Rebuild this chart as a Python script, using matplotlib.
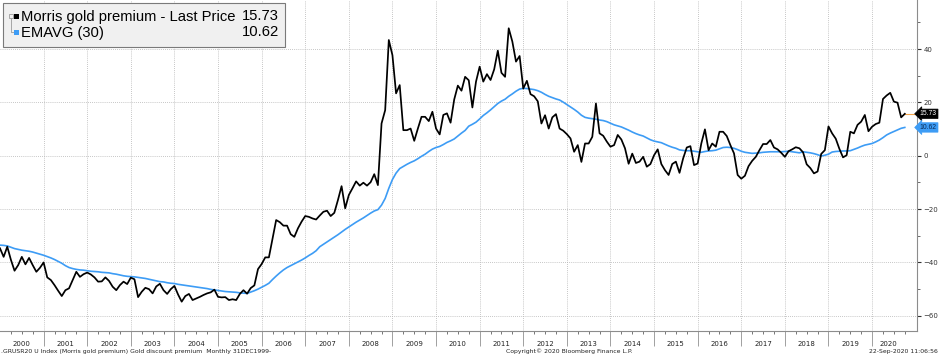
import matplotlib
matplotlib.use("Agg")
import matplotlib.pyplot as plt
import matplotlib.transforms as mtransforms
from matplotlib.patches import Rectangle
import pandas as pd

# monthly series, 31 Dec 1999 .. Sep 2020
premium = [
    -34.7,
    -37.9, -34.1, -39.0, -43.1, -41.0, -37.9, -40.7, -38.3, -41.0, -43.5, -42.0, -40.0,  # 2000
    -45.6, -46.6, -48.5, -50.6, -52.6, -50.4, -49.7, -46.6, -43.5, -45.4, -44.4, -43.8,  # 2001
    -44.5, -45.6, -47.2, -47.1, -45.6, -46.9, -49.1, -50.4, -48.5, -47.2, -48.1, -45.7,  # 2002
    -46.3, -53.0, -51.0, -49.5, -50.0, -51.6, -49.0, -48.0, -50.4, -51.8, -50.0, -48.8,  # 2003
    -52.0, -54.7, -52.6, -51.8, -54.1, -53.5, -52.9, -52.2, -51.6, -51.2, -50.2, -52.9,  # 2004
    -53.1, -53.0, -54.1, -53.8, -54.1, -51.8, -50.4, -51.7, -49.6, -48.6, -42.5, -40.6,  # 2005
    -38.1, -38.1, -31.0, -24.1, -24.9, -26.2, -26.2, -29.4, -30.4, -27.2, -24.7, -22.6,  # 2006
    -22.9, -23.5, -23.9, -22.4, -21.0, -20.6, -22.6, -21.4, -16.6, -11.4, -19.7, -14.7,  # 2007
    -12.2, -9.6, -11.2, -10.1, -11.2, -9.9, -6.9, -11.0, 12.1, 17.1, 43.4, 37.7,  # 2008
    23.4, 26.5, 9.6, 9.6, 10.2, 5.6, 10.2, 14.6, 14.6, 13.0, 16.5, 10.2,  # 2009
    8.0, 15.3, 15.9, 12.4, 21.1, 26.3, 24.4, 29.6, 28.3, 18.1, 27.8, 33.4,  # 2010
    27.8, 30.6, 28.4, 32.4, 39.4, 31.1, 29.6, 47.8, 42.8, 35.3, 37.4, 25.2,  # 2011
    28.1, 23.1, 22.3, 20.4, 12.1, 15.2, 10.2, 14.4, 15.6, 10.2, 9.4, 8.1,  # 2012
    6.5, 1.5, 4.0, -2.3, 4.6, 4.6, 7.1, 19.6, 8.4, 7.5, 5.3, 3.4,  # 2013
    4.0, 7.8, 6.1, 2.8, -3.0, 0.8, -2.7, -2.2, -0.4, -4.1, -3.1, 0.2,  # 2014
    2.4, -3.1, -5.4, -7.2, -3.1, -2.2, -6.4, -1.0, 3.1, 3.6, -3.5, -2.9,  # 2015
    4.6, 9.9, 2.1, 4.6, 3.4, 9.0, 9.0, 7.4, 4.0, 0.9, -7.2, -8.6,  # 2016
    -7.5, -3.9, -1.9, -0.4, 2.1, 4.4, 4.4, 5.9, 3.1, 2.4, 1.1, -0.4,  # 2017
    1.7, 2.4, 3.2, 2.8, 1.3, -3.2, -4.6, -6.6, -5.9, 0.7, 2.1, 11.0,  # 2018
    8.4, 6.4, 2.6, -0.6, 0.2, 9.0, 8.4, 11.6, 12.8, 15.3, 9.2, 10.9,  # 2019
    11.9, 12.4, 21.3, 22.6, 23.6, 20.3, 19.9, 14.4, 15.73,  # 2020
]

ema30 = [
    -33.5,
    -33.6, -33.8, -34.3, -34.8, -35.1, -35.4, -35.6, -35.8, -36.1, -36.5, -36.9, -37.3,  # 2000
    -37.8, -38.3, -38.9, -39.6, -40.3, -41.2, -41.9, -42.3, -42.6, -42.8, -42.9, -43.1,  # 2001
    -43.3, -43.4, -43.5, -43.7, -43.8, -43.9, -44.2, -44.4, -44.7, -45.0, -45.2, -45.3,  # 2002
    -45.4, -45.6, -45.8, -46.0, -46.3, -46.6, -46.9, -47.2, -47.3, -47.6, -47.8, -47.9,  # 2003
    -48.2, -48.4, -48.6, -48.8, -49.0, -49.2, -49.4, -49.6, -49.8, -50.1, -50.3, -50.5,  # 2004
    -50.7, -50.9, -51.0, -51.1, -51.2, -51.4, -51.5, -51.6, -51.1, -50.6, -50.0, -49.3,  # 2005
    -48.6, -47.8, -46.4, -45.1, -43.9, -42.8, -41.9, -41.2, -40.5, -39.8, -39.1, -38.3,  # 2006
    -37.4, -36.6, -35.6, -34.1, -33.2, -32.3, -31.4, -30.5, -29.6, -28.6, -27.6, -26.7,  # 2007
    -25.8, -24.9, -24.1, -23.3, -22.4, -21.5, -20.7, -20.2, -18.5, -16.0, -12.2, -8.9,  # 2008
    -6.5, -4.8, -4.0, -3.2, -2.5, -1.9, -1.1, -0.2, 0.6, 1.6, 2.5, 3.1,  # 2009
    3.5, 4.2, 5.0, 5.6, 6.3, 7.4, 8.5, 9.5, 11.1, 11.8, 12.6, 13.8,  # 2010
    15.1, 16.1, 17.2, 18.4, 19.6, 20.5, 21.2, 22.3, 23.2, 24.2, 25.0, 25.3,  # 2011
    25.2, 25.0, 24.8, 24.4, 23.8, 23.0, 22.3, 21.8, 21.3, 20.9, 20.1, 19.2,  # 2012
    18.3, 17.4, 16.4, 15.2, 14.4, 14.1, 13.9, 13.7, 13.4, 13.2, 12.8, 12.2,  # 2013
    11.6, 11.2, 10.8, 10.2, 9.6, 8.9, 8.3, 7.8, 7.4, 6.7, 6.0, 5.5,  # 2014
    5.2, 4.9, 4.3, 3.7, 3.2, 2.8, 2.2, 2.0, 1.9, 1.9, 1.7, 1.5,  # 2015
    1.3, 1.6, 1.8, 1.9, 2.1, 2.6, 3.1, 3.2, 3.1, 2.8, 2.3, 1.7,  # 2016
    1.3, 1.1, 0.9, 1.0, 1.1, 1.3, 1.4, 1.5, 1.5, 1.5, 1.5, 1.6,  # 2017
    1.7, 1.5, 1.3, 1.1, 1.5, 1.3, 1.1, 0.8, 0.4, -0.1, 0.2, 0.6,  # 2018
    1.4, 1.6, 1.7, 1.8, 1.8, 1.9, 2.4, 2.9, 3.5, 4.0, 4.3, 4.6,  # 2019
    5.2, 5.9, 6.8, 7.8, 8.5, 9.1, 9.7, 10.3, 10.62,  # 2020
]

years = list(range(2000, 2021))
last_price = 15.73
last_ema = 10.62

grid_col = "#b4b4b4"
axis_col = "#8c8c8c"
blue = "#3d9cf5"


def main():
    dates = pd.date_range("1999-12-31", periods=len(premium), freq="ME")
    x = dates.year + dates.month / 12.0

    fig = plt.figure(figsize=(9.39, 3.54), dpi=100)
    ax = fig.add_axes([0.0, 23 / 354, 917 / 939, 331 / 354])

    ax.plot(x, ema30, color=blue, lw=1.2, zorder=3)
    ax.plot(x, premium, color="black", lw=1.25, zorder=4)
    ax.plot([x[-1], 2021.1], [last_price, last_price], color="#f5a54a", lw=0.8, zorder=2)

    ax.set_xlim(2000.0, 2021.03)
    ax.set_ylim(-65.7, 58.4)

    for s in ("left", "top"):
        ax.spines[s].set_visible(False)
    for s in ("right", "bottom"):
        ax.spines[s].set_color(axis_col)
        ax.spines[s].set_linewidth(0.8)

    # y axis on the right
    ax.yaxis.tick_right()
    ax.set_yticks([-60, -40, -20, 0, 20, 40])
    ax.set_yticks(range(-60, 51, 10), minor=True)
    ax.tick_params(axis="y", which="major", length=3, width=0.8, color="#333333",
                   labelsize=5, labelcolor="#333333", pad=1.5)
    ax.tick_params(axis="y", which="minor", length=2, width=0.6, color="#555555")

    # x axis: year boundaries + quarters, labels centred in each year
    ax.set_xticks(years[1:])
    ax.set_xticks([y + q / 4 for y in years for q in (1, 2, 3)], minor=True)
    ax.set_xticklabels([])
    ax.tick_params(axis="x", which="major", length=11, width=0.7, color="#a0a0a0")
    ax.tick_params(axis="x", which="minor", length=2, width=0.6, color="#606060")

    trans = mtransforms.blended_transform_factory(ax.transData, ax.transAxes)
    for yr in years:
        cx = yr + 0.5 if yr < 2020 else 2020.37
        ax.text(cx, -0.038, str(yr), transform=trans, ha="center", va="center",
                fontsize=5, color="#222222")

    ax.grid(True, which="major", color=grid_col, lw=0.6, ls=(0, (1, 1.5)))

    # value tags at the right edge
    tag = dict(fontsize=4.9, family="Liberation Sans", ha="left", va="center",
               zorder=6, transform=ax.transAxes, clip_on=False)
    ax.text(1.003, (last_price + 65.7) / 124.1, "15.73", color="white",
            bbox=dict(boxstyle="larrow,pad=0.18", fc="black", ec="black", lw=0.5), **tag)
    ax.text(1.003, (last_ema + 65.7) / 124.1, "10.62", color="#0a2a55",
            bbox=dict(boxstyle="larrow,pad=0.18", fc=blue, ec=blue, lw=0.5), **tag)

    # legend panel, drawn in figure pixels
    W, H = 939, 354

    def fx(px):
        return px / W

    def fy(py):
        return 1 - py / H

    fig.patches.append(Rectangle((fx(3), fy(47)), fx(282), 44 / H, transform=fig.transFigure,
                                 fc="#f0f0f0", ec="#7a7a7a", lw=0.8, zorder=10))
    fig.lines.append(plt.Line2D([fx(10.5), fx(10.5), fx(14)], [fy(18), fy(32), fy(32)],
                                transform=fig.transFigure, color="#9a9a9a", lw=0.6, zorder=11))
    fig.patches.append(Rectangle((fx(8.5), fy(18)), 4 / W, 4 / H, transform=fig.transFigure,
                                 fc="#f0f0f0", ec="#9a9a9a", lw=0.6, zorder=11))
    fig.patches.append(Rectangle((fx(14), fy(19)), 5 / W, 5 / H, transform=fig.transFigure,
                                 fc="black", ec="none", zorder=11))
    fig.patches.append(Rectangle((fx(14), fy(35)), 5 / W, 5 / H, transform=fig.transFigure,
                                 fc=blue, ec="none", zorder=11))
    leg = dict(fontsize=10.6, family="Liberation Sans", va="center", color="black", zorder=12)
    fig.text(fx(21), fy(16.5), "Morris gold premium - Last Price", ha="left", **leg)
    fig.text(fx(279), fy(16.5), "15.73", ha="right", **leg)
    fig.text(fx(21), fy(32.5), "EMAVG (30)", ha="left", **leg)
    fig.text(fx(279), fy(32.5), "10.62", ha="right", **leg)

    # footer
    fig.text(fx(1), fy(351), ".GRUSR20 U Index (Morris gold premium) Gold discount premium  Monthly 31DEC1999-",
             fontsize=4.4, ha="left", va="center", color="#222222")
    fig.text(fx(569), fy(351), "Copyright\u00a9 2020 Bloomberg Finance L.P.",
             fontsize=4.4, ha="center", va="center", color="#222222")
    fig.text(fx(938), fy(351), "22-Sep-2020 11:06:56",
             fontsize=4.4, ha="right", va="center", color="#222222")

    fig.savefig("out.png", dpi=100, facecolor="white")
    plt.close(fig)


if __name__ == "__main__":
    main()
